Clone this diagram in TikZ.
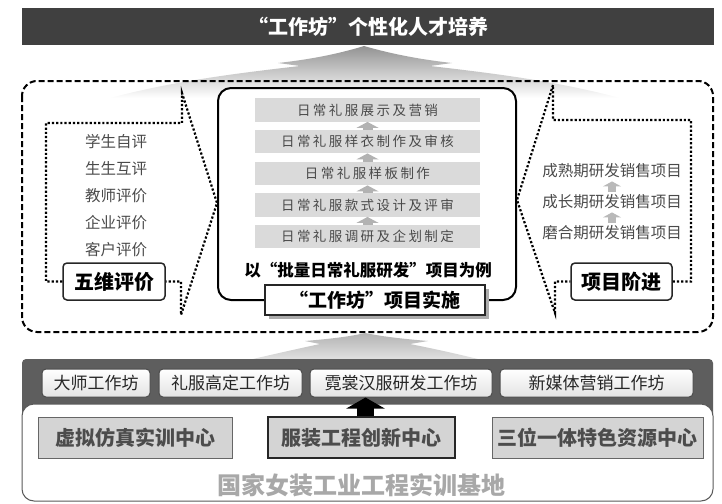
\documentclass[tikz,border=0pt]{standalone}
\usepackage{fontspec}
\setmainfont{Noto Sans CJK SC}
\usetikzlibrary{arrows.meta,calc,shadows}
\definecolor{bardark}{HTML}{404040}
\definecolor{txtgray}{HTML}{4A4A4A}
\definecolor{bandgray}{HTML}{5E5E5E}
\definecolor{lightbar}{HTML}{DADADA}
\definecolor{basegray}{HTML}{A8A8A8}
\definecolor{boxgray}{HTML}{D4D4D4}
\newcommand{\fsz}[1]{\fontsize{#1}{#1}\selectfont}
\begin{document}
\begin{tikzpicture}[x=1pt,y=-1pt,
  dashline/.style={line width=2pt, dash pattern=on 6pt off 3pt},
  dotline/.style={line width=2.2pt, dash pattern=on 2.2pt off 2pt},
  barbox/.style={fill=lightbar, minimum width=225pt, minimum height=23.5pt, inner sep=0pt,
     text=txtgray, font=\fsz{13.5}\addfontfeature{LetterSpace=18}},
  sidetext/.style={inner sep=0pt, text=txtgray, font=\fsz{15.5}},
  keybox/.style={draw=black!85, line width=1.5pt, rounded corners=4pt, fill=white,
     minimum height=37pt, inner sep=0pt, font=\bfseries\fsz{20}},
  wsbox/.style={draw=black!70, line width=1pt, rounded corners=4pt, top color=white, bottom color=gray!22,
     minimum height=28pt, inner sep=0pt, text=black!85, font=\fsz{17}},
  ctrbox/.style={draw=gray!80!black, line width=1pt, fill=boxgray,
     minimum height=41pt, inner sep=0pt, text=black!70, font=\bfseries\fsz{20}},
  smallarrow/.style={-{Triangle[width=22pt,length=6pt]}, line width=10pt, draw=gray!60},
  sidearrow/.style={-{Triangle[width=18pt,length=5pt]}, line width=8pt, draw=gray!55,
     shorten <=3pt, shorten >=3pt},
  blockarrow/.style={-{Triangle[width=38pt,length=11pt]}, line width=17pt, draw=black}
]
\useasboundingbox (0,0) rectangle (722,503);

% top title bar
\node[fill=bardark, minimum width=692pt, minimum height=37pt, inner sep=0pt,
      text=white, font=\bfseries\fsz{20}] (title) at (368,26.5) {“工作坊”个性化人才培养};

% upper tree arrow (shaded)
\shade[top color=gray!85, bottom color=white]
  (364,46) .. controls (335,55) and (305,60) .. (278,63) -- (300,66)
  .. controls (230,74) and (170,82) .. (110,98) -- (620,98)
  .. controls (560,82) and (500,74) .. (430,66) -- (452,63)
  .. controls (425,60) and (395,55) .. (364,46) -- cycle;

% dashed outer box
\draw[dashline, rounded corners=15pt] (22,81) rectangle (713,332);

% left dotted chevron
\node[keybox, minimum width=102pt] (fw) at (114,281.5) {五维评价};
\draw[dotline] (fw.west) -- (46,281.5) -- (46,123) -- (182,123) -- (182,93)
  -- (217,203) -- (181,315) -- (181,281.5) -- (fw.east);
\node[sidetext] (l1) at (116,142) {学生自评};
\node[sidetext] (l2) at (116,169) {生生互评};
\node[sidetext] (l3) at (116,196) {教师评价};
\node[sidetext] (l4) at (116,223) {企业评价};
\node[sidetext] (l5) at (116,250) {客户评价};

% right dotted chevron
\node[keybox, minimum width=101pt] (pj) at (621.5,281.5) {项目阶进};
\draw[dotline] (pj.east) -- (691,281.5) -- (691,120) -- (553,120) -- (553,85)
  -- (517,200) -- (555,313) -- (555,281.5) -- (pj.west);
\node[sidetext] (r1) at (612,171) {成熟期研发销售项目};
\node[sidetext] (r2) at (612,202) {成长期研发销售项目};
\node[sidetext] (r3) at (612,233) {磨合期研发销售项目};
\draw[sidearrow] (r3.north) -- (r2.south);
\draw[sidearrow] (r2.north) -- (r1.south);

% centre box
\draw[line width=2pt, rounded corners=13pt, fill=white] (218,88) rectangle (516,300);
\node[barbox] (b1) at (367.5,110) {日常礼服展示及营销};
\node[barbox] (b2) at (367.5,141.5) {日常礼服样衣制作及审核};
\node[barbox] (b3) at (367.5,173.5) {日常礼服样板制作};
\node[barbox] (b4) at (367.5,205) {日常礼服款式设计及评审};
\node[barbox] (b5) at (367.5,236.5) {日常礼服调研及企划制定};
\draw[smallarrow] (b5.north) -- (b4.south);
\draw[smallarrow] (b4.north) -- (b3.south);
\draw[smallarrow] (b3.north) -- (b2.south);
\draw[smallarrow] (b2.north) -- (b1.south);
\node[inner sep=0pt, font=\bfseries\fsz{16.5}] (ex) at (368,270) {以“批量日常礼服研发”项目为例};
\node[draw=black!85, line width=1.5pt, fill=white, minimum width=220pt, minimum height=30pt,
      inner sep=0pt, font=\bfseries\fsz{19},
      drop shadow={shadow xshift=4pt, shadow yshift=-4pt, fill=gray!65, opacity=1}]
      (impl) at (375,300) {“工作坊”项目实施};

% lower tree arrow
\shade[top color=gray!60, bottom color=gray!20]
  (365,333) .. controls (348,337) and (328,339) .. (305,341) -- (320,344)
  .. controls (292,350) and (270,355) .. (240,362) -- (490,362)
  .. controls (462,355) and (440,350) .. (410,344) -- (428,341)
  .. controls (405,339) and (385,337) .. (365,333) -- cycle;

% workshop band
\fill[bandgray, rounded corners=4pt] (22,359) rectangle (713,418);
\draw[fill=white, draw=gray!70!black, line width=1pt, rounded corners=12pt] (22,404) rectangle (713,501);
\node[wsbox, minimum width=108pt] (ws1) at (96,383) {大师工作坊};
\node[wsbox, minimum width=143pt] (ws2) at (230.5,383) {礼服高定工作坊};
\node[wsbox, minimum width=182pt] (ws3) at (401,383) {霓裳汉服研发工作坊};
\node[wsbox, minimum width=193pt] (ws4) at (596.5,383) {新媒体营销工作坊};

% centres
\node[ctrbox, minimum width=194pt] (c1) at (135,437.5) {虚拟仿真实训中心};
\node[ctrbox, minimum width=187pt, draw=black!85, line width=1.5pt] (c2) at (361.5,437.5) {服装工程创新中心};
\node[ctrbox, minimum width=211pt] (c3) at (597.5,437.5) {三位一体特色资源中心};
\draw[blockarrow] ([xshift=4pt]c2.north) -- ([xshift=4pt]c2.north |- ws3.south);
\node[inner sep=0pt, text=basegray, font=\bfseries\fsz{24}] (base) at (361,485) {国家女装工业工程实训基地};
\end{tikzpicture}
\end{document}
